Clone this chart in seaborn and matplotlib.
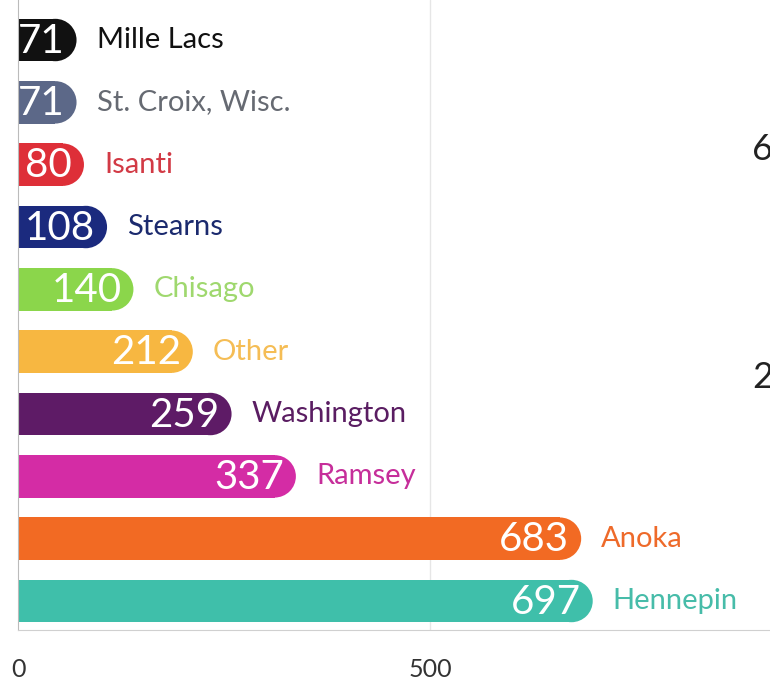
import matplotlib
matplotlib.use("Agg")
import matplotlib.pyplot as plt
import seaborn as sns
import pandas as pd
from matplotlib.patches import Ellipse

counties = ["Mille Lacs", "St. Croix, Wisc.", "Isanti", "Stearns", "Chisago",
            "Other", "Washington", "Ramsey", "Anoka", "Hennepin"]
values = [71, 71, 80, 108, 140, 212, 259, 337, 683, 697]
bar_colors = ["#111111", "#5c6888", "#de2f38", "#1b2a7e", "#8bd64b",
              "#f7b741", "#5e1b66", "#d42ca5", "#f26a23", "#3fbfaa"]
label_colors = ["#111111", "#666a72", "#d23a45", "#1b2a6e", "#9fd86e",
                "#f5bd55", "#5a1d62", "#c62e9a", "#ee6a2a", "#47bca9"]
x_ticks = [0, 500]
side_texts = ["6", "2"]

sns.set_style("white")
plt.rcParams["font.family"] = ["Lato", "DejaVu Sans"]

df = pd.DataFrame({"county": counties, "value": values})

W, H = 770, 681
fig = plt.figure(figsize=(W / 100, H / 100), dpi=100)
ax = fig.add_axes([18 / W, 51 / H, 1 - 18 / W, 630 / H])

sns.barplot(data=df, y="county", x="value", hue="county", palette=bar_colors,
            order=counties, hue_order=counties, orient="h", width=0.68,
            legend=False, ax=ax, saturation=1)

ax.set_xlim(0, 912)
ax.set_ylim(9.465, -0.642)
fig.canvas.draw()

# px per data unit
px_x = ax.transData.transform((1, 0))[0] - ax.transData.transform((0, 0))[0]
px_y = abs(ax.transData.transform((0, 1))[1] - ax.transData.transform((0, 0))[1])

for p, c in zip(ax.patches, bar_colors):
    x0, y0 = p.get_x(), p.get_y()
    w, h = p.get_width(), p.get_height()
    r_px = h * px_y / 2
    rx = r_px / px_x
    p.set_width(w - rx)
    p.set_linewidth(0)
    ax.add_patch(Ellipse((w - rx, y0 + h / 2), 2 * rx, h, facecolor=c,
                         edgecolor="none", zorder=p.get_zorder()))

for i, (v, lc) in enumerate(zip(values, label_colors)):
    ax.text(v - 12 / px_x, i + 0.02, str(v), color="white", fontsize=29,
            ha="right", va="center", fontweight="normal", zorder=5)
    ax.text(v + 20 / px_x, i, counties[i], color=lc, fontsize=21,
            ha="left", va="center", zorder=5)

ax.set_xticks(x_ticks)
ax.set_xticklabels([str(t) for t in x_ticks], fontsize=18, color="#333333")
ax.tick_params(axis="x", length=9, width=1, color="#cccccc", pad=11)
ax.set_yticks([])
ax.set_xlabel("")
ax.set_ylabel("")
ax.axvline(500, color="#e6e6e6", lw=1, zorder=0)
for s in ["top", "right"]:
    ax.spines[s].set_visible(False)
ax.spines["left"].set_color("#bbbbbb")
ax.spines["bottom"].set_color("#d0d0d0")

fig.text(752 / W, 1 - 150 / H, side_texts[0], fontsize=26, color="#222222",
         ha="left", va="center")
fig.text(752 / W, 1 - 378 / H, side_texts[1], fontsize=26, color="#222222",
         ha="left", va="center")

fig.savefig("out.png", dpi=100)
